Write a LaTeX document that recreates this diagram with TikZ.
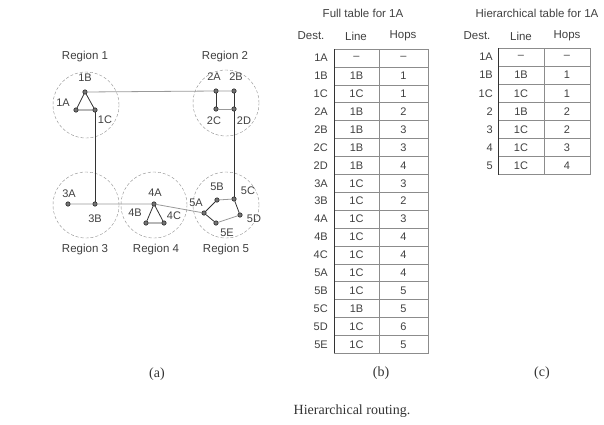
\documentclass[tikz,border=0pt]{standalone}
\usepackage{fontspec}
\setmainfont{Liberation Serif}
\setsansfont{Liberation Sans}
\tikzset{
  router/.style={circle,draw=black,fill=black!55,inner sep=0pt,minimum size=4.5pt},
  region/.style={circle,draw=black!45,dash pattern=on 3pt off 2pt,minimum size=66pt,inner sep=0pt},
  tag/.style={font=\sffamily\fontsize{11}{13}\selectfont,text=black!75,inner sep=0pt},
  head/.style={tag,font=\sffamily\fontsize{11.5}{13}\selectfont},
  link/.style={draw=black!80,line width=0.8pt},
  faint/.style={draw=black!40,line width=0.8pt},
  cell/.style={draw=black!45,line width=0.6pt},
  serif/.style={font=\rmfamily\fontsize{14}{16}\selectfont,text=black!80,inner sep=0pt}
}
\begin{document}
\begin{tikzpicture}[x=1pt,y=-1pt]
\useasboundingbox (0,0) rectangle (604,424);
\node[region] (reg1) at (86,105) {};
\node[region] (reg2) at (226,103) {};
\node[region] (reg3) at (86,205) {};
\node[region] (reg4) at (154,205) {};
\node[region] (reg5) at (226,205) {};
\node[head] (lab1) at (85,57) {Region 1};
\node[head] (lab2) at (225,57) {Region 2};
\node[head] (lab3) at (85,250) {Region 3};
\node[head] (lab4) at (156,250) {Region 4};
\node[head] (lab5) at (226,250) {Region 5};

\node[router] (n1A) at (76,110) {};
\node[router] (n1B) at (85,92) {};
\node[router] (n1C) at (95,110) {};
\node[router] (n2A) at (216,91) {};
\node[router] (n2B) at (234,91) {};
\node[router] (n2C) at (216,109) {};
\node[router] (n2D) at (234,109) {};
\node[router] (n3A) at (68,204) {};
\node[router] (n3B) at (95,204) {};
\node[router] (n4A) at (154,204) {};
\node[router] (n4B) at (146,223) {};
\node[router] (n4C) at (164,223) {};
\node[router] (n5A) at (204,213) {};
\node[router] (n5B) at (217,200) {};
\node[router] (n5C) at (234,199) {};
\node[router] (n5D) at (240,215) {};
\node[router] (n5E) at (216,223) {};

\draw[link] (n1A) -- (n1B) -- (n1C) -- (n1A);
\draw[faint] (n1B) -- (n2A) -- (n2B);
\draw[link] (n2A) -- (n2C) (n2B) -- (n2D);
\draw[faint] (n2C) -- (n2D);
\draw[link] (n1C) -- (n3B) (n2D) -- (n5C);
\draw[faint] (n3A) -- (n3B) -- (n4A) -- (n5A);
\draw[link] (n4B) -- (n4A) -- (n4C) -- (n4B);
\draw[link] (n5A) -- (n5B) (n5C) -- (n5D) (n5E) -- (n5A);
\draw[faint] (n5B) -- (n5C) (n5D) -- (n5E);

\node[tag] (t1A) at (63,103) {1A};
\node[tag] (t1B) at (85,78) {1B};
\node[tag] (t1C) at (105,120) {1C};
\node[tag] (t2A) at (214,77) {2A};
\node[tag] (t2B) at (236,77) {2B};
\node[tag] (t2C) at (214,121) {2C};
\node[tag] (t2D) at (244,121) {2D};
\node[tag] (t3A) at (69,194) {3A};
\node[tag] (t3B) at (95,219) {3B};
\node[tag] (t4A) at (155,193) {4A};
\node[tag] (t4B) at (135,213) {4B};
\node[tag] (t4C) at (174,216) {4C};
\node[tag] (t5A) at (196,203) {5A};
\node[tag] (t5B) at (217,187) {5B};
\node[tag] (t5C) at (248,191) {5C};
\node[tag] (t5D) at (254,219) {5D};
\node[tag] (t5E) at (227,233) {5E};

\node[head] (fulltitle) at (363,13) {Full table for 1A};
\node[head] (fulldest) at (311,36) {Dest.};
\node[head] (fullline) at (356,36) {Line};
\node[head] (fullhops) at (403,36) {Hops};
\foreach \d/\l/\h [count=\i] in {1A/\textendash/\textendash, 1B/1B/1, 1C/1C/1,
    2A/1B/2, 2B/1B/3, 2C/1B/3, 2D/1B/4, 3A/1C/3, 3B/1C/2, 4A/1C/3, 4B/1C/4,
    4C/1C/4, 5A/1C/4, 5B/1C/5, 5C/1B/5, 5D/1C/6, 5E/1C/5}{
  \draw[cell] (334,{49+(\i-1)*17.9}) rectangle (379,{49+\i*17.9})
    rectangle (428,{49+(\i-1)*17.9});
  \node[tag,anchor=east] (fd\i) at (328,{49+(\i-0.5)*17.9}) {\d};
  \node[tag] (fl\i) at (356.5,{49+(\i-0.5)*17.9}) {\l};
  \node[tag] (fh\i) at (403.5,{49+(\i-0.5)*17.9}) {\h};
}
\draw[link] (334,49) -- (334,353.3);

\node[head] (hiertitle) at (537,13) {Hierarchical table for 1A};
\node[head] (hierdest) at (477,36) {Dest.};
\node[head] (hierline) at (521,36) {Line};
\node[head] (hierhops) at (567,36) {Hops};
\foreach \d/\l/\h [count=\i] in {1A/\textendash/\textendash, 1B/1B/1, 1C/1C/1,
    2/1B/2, 3/1C/2, 4/1C/3, 5/1C/4}{
  \draw[cell] (498,{48+(\i-1)*18.1}) rectangle (544,{48+\i*18.1})
    rectangle (590,{48+(\i-1)*18.1});
  \node[tag,anchor=east] (hd\i) at (493,{48+(\i-0.5)*18.1}) {\d};
  \node[tag] (hl\i) at (521,{48+(\i-0.5)*18.1}) {\l};
  \node[tag] (hh\i) at (567,{48+(\i-0.5)*18.1}) {\h};
}
\draw[link] (498,48) -- (498,174.7);

\node[serif] (capa) at (157,374) {(a)};
\node[serif] (capb) at (381,373) {(b)};
\node[serif] (capc) at (542,373) {(c)};
\node[serif] (caption) at (352,411) {Hierarchical routing.};
\end{tikzpicture}
\end{document}
